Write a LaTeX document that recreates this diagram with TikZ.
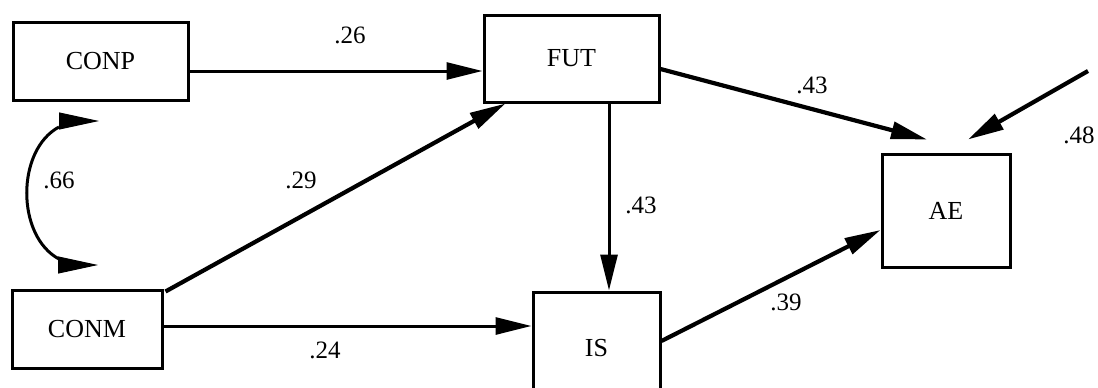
\documentclass[tikz,border=0pt]{standalone}
\usepackage{fontspec}
\setmainfont{Liberation Serif}
\usetikzlibrary{arrows.meta,calc}
\begin{document}
\begin{tikzpicture}[x=1pt,y=-1pt,
  varbox/.style={draw, line width=3pt, inner sep=0pt, font=\fontsize{26}{30}\selectfont},
  coef/.style={inner sep=0pt, font=\fontsize{25}{30}\selectfont},
  path/.style={line width=3pt, -{Triangle[length=36pt,width=17pt]}},
  diag/.style={path, line width=4.2pt},
  covtip/.style={-{Triangle[length=40pt,width=17pt]}, line width=1pt},
  cov/.style={line width=3pt}]
  % page area
  \clip (0,0) rectangle (1098,388);
  \fill[white] (0,0) rectangle (1098,388);

  % variables
  \node[varbox, minimum width=175pt, minimum height=78pt] (conp) at (100.5,61) {CONP};
  \node[varbox, minimum width=150pt, minimum height=78pt] (conm) at (87,329) {CONM};
  \node[varbox, minimum width=175pt, minimum height=87pt] (fut) at (571.5,58.5) {FUT};
  \node[varbox, minimum width=127pt, minimum height=112pt] (is) at (596.5,348) {IS};
  \node[varbox, minimum width=128pt, minimum height=113pt] (ae) at (946,210.5) {AE};

  % paths
  \draw[path] ([yshift=-10pt]conp.east) -- ([yshift=-10pt]conp.east -| fut.west);
  \draw[diag] ([shift={(2pt,-3pt)}]conm.north east) -- ([xshift=23pt]fut.south west);
  \draw[path] ([yshift=3pt]conm.east) -- ([yshift=3pt]conm.east -| is.west);
  \draw[path] ([xshift=37.5pt]fut.south) -- ([xshift=37.5pt]fut.south |- is.north);
  \draw[diag] ([yshift=-10.5pt]fut.east) -- ([shift={(-19pt,13pt)}]ae.north);
  \draw[diag] ([yshift=7pt]is.east) -- ([yshift=-19.5pt]ae.west);

  % residual
  \coordinate (res) at (1088,71);
  \draw[diag] (res) -- ([shift={(22pt,13pt)}]ae.north);

  % correlation between CONP and CONM
  \coordinate (ctop) at (99,121);
  \coordinate (cbot) at (98,265);
  \draw[cov] (59,127) .. controls (16,150) and (16,236) .. (59,259);
  \draw[covtip] ([xshift=-40pt]ctop) -- (ctop);
  \draw[covtip] ([xshift=-40pt]cbot) -- (cbot);

  % coefficients
  \node[coef] (l26) at (350,35.5) {.26};
  \node[coef] (l29) at (301,180) {.29};
  \node[coef] (l66) at (59,180) {.66};
  \node[coef] (l24) at (325,350) {.24};
  \node[coef] (l43v) at (641,205) {.43};
  \node[coef] (l43) at (812,85) {.43};
  \node[coef] (l48) at (1079,135) {.48};
  \node[coef] (l39) at (786,302) {.39};
\end{tikzpicture}
\end{document}
